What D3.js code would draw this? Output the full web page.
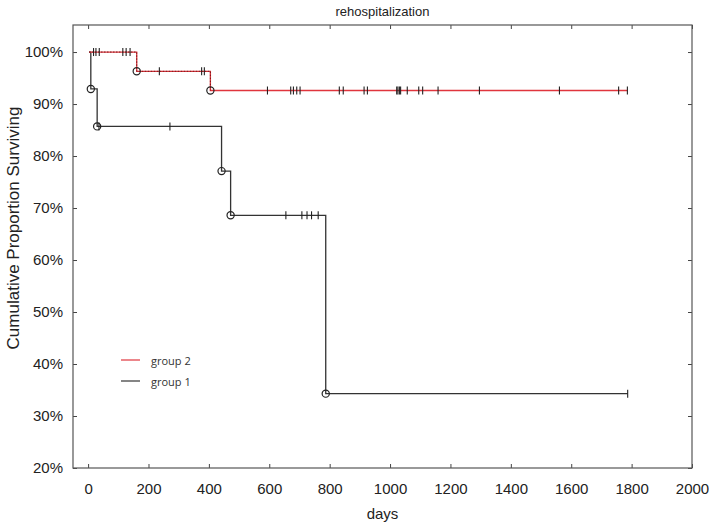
<!DOCTYPE html>
<html>
<head>
<meta charset="utf-8">
<script src="https://cdnjs.cloudflare.com/ajax/libs/d3/7.8.5/d3.min.js"></script>
<style>
  body { margin: 0; background: #fff; }
  .tick text { font-family: "Liberation Sans Narrow", "Liberation Sans", Arial, sans-serif; font-size: 15px; fill: #222; }
</style>
</head>
<body>
<div id="chart"></div>
<script>
// Kaplan-Meier data (days / proportion surviving)

// group 1 (black): step times and survival after each step
var g1Times = [3, 9, 30, 442, 472, 787];
var g1Surv = [1, 0.929, 0.857, 0.771, 0.686, 0.343];
var g1Censor = [36, 271, 655, 708, 725, 740, 762, 1787];
var g1End = 1787;

// group 2 (red)
var g2Times = [3, 161, 405];
var g2Surv = [1, 0.963, 0.926];
var g2Censor = [18, 26, 37, 115, 126, 139, 236, 376, 385, 594, 671, 680, 691, 702, 832, 845,
  914, 925, 1022, 1026, 1031, 1035, 1057, 1095, 1108, 1159, 1296, 1561, 1757, 1786];
var g2End = 1786;

var xTicks = [0, 200, 400, 600, 800, 1000, 1200, 1400, 1600, 1800, 2000];
var yTicks = [0.2, 0.3, 0.4, 0.5, 0.6, 0.7, 0.8, 0.9, 1.0];
var legendNames = ["group 2", "group 1"];

// chart area
var svgWidth = 709;
var svgHeight = 523;
var margin = { top: 25, right: 17, bottom: 55, left: 73 };
var chartW = svgWidth - margin.left - margin.right;
var chartH = svgHeight - margin.top - margin.bottom;

var svg = d3.select("#chart")
  .append("svg")
  .attr("width", svgWidth)
  .attr("height", svgHeight);

var chartGrp = svg.append("g")
  .attr("transform", `translate(${margin.left}, ${margin.top})`);

var x = d3.scaleLinear().domain([-50, 2000]).range([0, chartW]);
var y = d3.scaleLinear().domain([0.2, 1.052]).range([chartH, 0]);

// axes, ticks pointing inward on all four sides
var tickLen = 4;
chartGrp.append("g")
  .attr("transform", `translate(0, ${chartH})`)
  .call(d3.axisBottom(x).tickValues(xTicks).tickSize(-tickLen).tickPadding(15).tickFormat(d3.format("d")))
  .call(g => g.select(".domain").remove());

chartGrp.append("g")
  .call(d3.axisTop(x).tickValues(xTicks).tickSize(-tickLen).tickFormat(""))
  .call(g => g.select(".domain").remove());

chartGrp.append("g")
  .call(d3.axisLeft(y).tickValues(yTicks).tickSize(-tickLen).tickPadding(10).tickFormat(d3.format(".0%")))
  .call(g => g.select(".domain").remove());

chartGrp.append("g")
  .attr("transform", `translate(${chartW}, 0)`)
  .call(d3.axisRight(y).tickValues(yTicks).tickSize(-tickLen).tickFormat(""))
  .call(g => g.select(".domain").remove());

chartGrp.selectAll(".tick line").attr("stroke", "#444");

// frame
chartGrp.append("rect")
  .attr("width", chartW)
  .attr("height", chartH)
  .attr("fill", "none")
  .attr("stroke", "#555")
  .attr("stroke-width", 1.2);

// build step path points from times / survival
function stepPoints(times, surv, end) {
  var pts = [];
  times.forEach(function(t, i) {
    if (i > 0) pts.push([t, surv[i - 1]]);
    pts.push([t, surv[i]]);
  });
  pts.push([end, surv[surv.length - 1]]);
  return pts;
}

// survival value at time t
function survAt(times, surv, t) {
  var s = surv[0];
  times.forEach(function(tt, i) { if (tt <= t) s = surv[i]; });
  return s;
}

var line = d3.line().x(d => x(d[0])).y(d => y(d[1]));

function drawGroup(times, surv, censor, end, color) {
  chartGrp.append("path")
    .attr("d", line(stepPoints(times, surv, end)))
    .attr("fill", "none")
    .attr("stroke", color)
    .attr("stroke-width", 1.3);

  chartGrp.selectAll(null)
    .data(censor)
    .enter()
    .append("line")
    .attr("x1", d => x(d))
    .attr("x2", d => x(d))
    .attr("y1", d => y(survAt(times, surv, d)) - 4)
    .attr("y2", d => y(survAt(times, surv, d)) + 4)
    .attr("stroke", "#222")
    .attr("stroke-width", 1.1);

  chartGrp.selectAll(null)
    .data(times.slice(1))
    .enter()
    .append("circle")
    .attr("cx", d => x(d))
    .attr("cy", d => y(survAt(times, surv, d)))
    .attr("r", 3.6)
    .attr("fill", "none")
    .attr("stroke", "#222")
    .attr("stroke-width", 1.2);
}

drawGroup(g1Times, g1Surv, g1Censor, g1End, "#333");
drawGroup(g2Times, g2Surv, g2Censor, g2End, "#e0353d");

// dark dotted trace over the first part of the red curve
chartGrp.append("path")
  .attr("d", line(stepPoints(g2Times, g2Surv, g2Times[g2Times.length - 1])))
  .attr("fill", "none")
  .attr("stroke", "#5a1010")
  .attr("stroke-width", 0.8)
  .attr("stroke-dasharray", "1.5,1.5");

// legend
var legendColors = ["#e0353d", "#333"];
var legendGrp = svg.append("g").attr("transform", "translate(121, 360)");
legendNames.forEach(function(name, i) {
  legendGrp.append("line")
    .attr("x1", 0).attr("x2", 19)
    .attr("y1", i * 21).attr("y2", i * 21)
    .attr("stroke", legendColors[i])
    .attr("stroke-width", 1.2);
  legendGrp.append("text")
    .attr("x", 30)
    .attr("y", i * 21)
    .attr("dominant-baseline", "central")
    .attr("font-family", "'Open Sans', sans-serif")
    .attr("font-size", "11px")
    .attr("fill", "#333")
    .text(name);
});

// title
svg.append("text")
  .attr("x", margin.left + chartW / 2)
  .attr("y", 16)
  .attr("text-anchor", "middle")
  .attr("font-family", "'Liberation Sans', Arial, sans-serif")
  .attr("font-size", "13px")
  .attr("fill", "#222")
  .text("rehospitalization");

// x-axis label
svg.append("text")
  .attr("x", margin.left + chartW / 2)
  .attr("y", 519)
  .attr("text-anchor", "middle")
  .attr("font-family", "'Liberation Sans Narrow', 'Liberation Sans', Arial, sans-serif")
  .attr("font-size", "15px")
  .attr("fill", "#222")
  .text("days");

// y-axis label
svg.append("text")
  .attr("transform", "rotate(-90)")
  .attr("x", -228)
  .attr("y", 19)
  .attr("text-anchor", "middle")
  .attr("font-family", "'Liberation Sans', Arial, sans-serif")
  .attr("font-size", "17px")
  .attr("fill", "#222")
  .text("Cumulative Proportion Surviving");
</script>
</body>
</html>
